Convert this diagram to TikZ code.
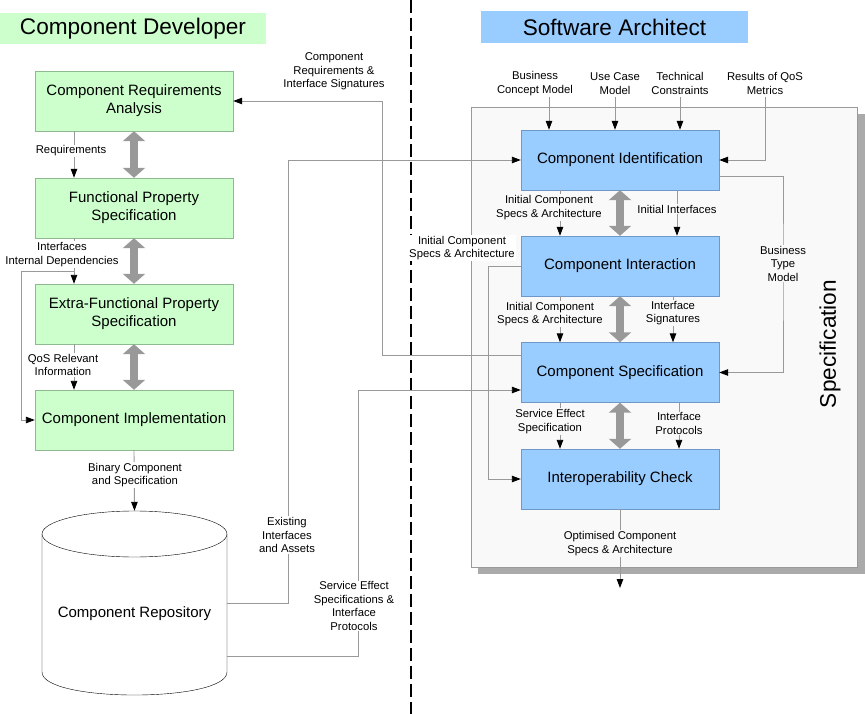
\documentclass[tikz,border=0pt]{standalone}
\usepackage{fontspec}
\setmainfont{Liberation Sans}
\usetikzlibrary{arrows.meta}
\definecolor{gfill}{HTML}{CCFFCC}
\definecolor{gdraw}{HTML}{8FB98F}
\definecolor{bfill}{HTML}{99CCFF}
\definecolor{bdraw}{HTML}{6F98C8}
\definecolor{lgray}{HTML}{999999}
\definecolor{areafill}{HTML}{F9F9F9}
\definecolor{shadowgray}{HTML}{AAAAAA}
\begin{document}
\begin{tikzpicture}[x=1pt,y=-1pt,
  gbox/.style={draw=gdraw, fill=gfill, minimum width=198pt, minimum height=60pt, align=center, font=\fontsize{15}{18}\selectfont, inner sep=0pt},
  bbox/.style={draw=bdraw, fill=bfill, minimum width=198pt, minimum height=60pt, align=center, font=\fontsize{15}{18}\selectfont, inner sep=0pt},
  lbl/.style={fill=white, inner sep=1pt, align=center, font=\fontsize{11.3}{13.5}\selectfont},
  conn/.style={draw=lgray, line width=0.9pt, -{Triangle[length=9pt,width=6.5pt,color=black]}},
  dbl/.style={draw=lgray, line width=8pt, {Triangle[length=10pt,width=22pt]}-{Triangle[length=10pt,width=22pt]}},
  title/.style={minimum height=31pt, font=\fontsize{22.6}{26}\selectfont, inner sep=0pt}
]
\useasboundingbox (0,0) rectangle (865,714);

% titles
\node[title, fill=gfill, minimum width=266pt] (tdev) at (133,28.5) {Component Developer};
\node[title, fill=bfill, minimum width=267pt, minimum height=32pt] (tarch) at (614.5,27) {Software Architect};

% separator
\draw[line width=2.5pt, dash pattern=on 13pt off 5pt] (411,0) -- (411,714);

% specification area
\fill[shadowgray] (478,114) rectangle (865,574);
\draw[draw=lgray, fill=areafill] (471,107) rectangle (857,567);
\node[rotate=90, font=\fontsize{22.6}{26}\selectfont] (spec) at (830,344) {Specification};

% left boxes
\node[gbox] (cra) at (134,101) {Component Requirements\\Analysis};
\node[gbox] (fps) at (134,208) {Functional Property\\Specification};
\node[gbox] (efps) at (134,314) {Extra-Functional Property\\Specification};
\node[gbox] (cimp) at (134,420) {Component Implementation};

% repository cylinder
\node[minimum width=185pt, minimum height=184pt, inner sep=0pt] (repo) at (134.5,603) {};
\fill[white] (42,534) rectangle (227,672);
\draw[fill=white] (42,534) -- (42,672) .. controls (42,702.7) and (227,702.7) .. (227,672) -- (227,534);
\draw[fill=white] (134.5,534) ellipse [x radius=92.5, y radius=23];
\node[font=\fontsize{15}{18}\selectfont] (repotext) at (134.5,614) {Component Repository};

% right boxes
\node[bbox] (cid) at (620,160) {Component Identification};
\node[bbox] (cint) at (620,266) {Component Interaction};
\node[bbox] (cspec) at (620,372.5) {Component Specification};
\node[bbox] (ic) at (620,479) {Interoperability Check};

% coordinates
\coordinate (ib) at (74,271);
\coordinate (ea) at (288,603);
\coordinate (se) at (358,656);
\coordinate (crl) at (382,355);
\coordinate (t1) at (549,97);
\coordinate (t2) at (615,97);
\coordinate (t3) at (680,97);
\coordinate (t4) at (765,97);
\coordinate (btm) at (783,270);
\coordinate (cb) at (488,266);
\coordinate (oe) at (620,588);

% left thick arrows
\draw[dbl] (cra.south) -- (fps.north);
\draw[dbl] (fps.south) -- (efps.north);
\draw[dbl] (efps.south) -- (cimp.north);
% right thick arrows
\draw[dbl] (cid.south) -- (cint.north);
\draw[dbl] (cint.south) -- (cspec.north);
\draw[dbl] (cspec.south) -- (ic.north);

% left thin connectors
\draw[conn] ([xshift=-60pt]cra.south) -- ([xshift=-60pt]fps.north);
\draw[conn] ([xshift=-60pt]fps.south) -- ([xshift=-60pt]efps.north);
\draw[conn] (ib) -- (21,271) |- (cimp.west);
\draw[conn] ([xshift=-60pt]efps.south) -- ([xshift=-60pt]cimp.north);
\draw[conn] (cimp.south) -- (repo.north);

% cross connectors
\draw[conn] (ea -| repo.east) -- (ea) |- (cid.west);
\draw[conn] (se -| repo.east) -- (se) |- ([yshift=-17.5pt]cspec.west);
\draw[conn] ([yshift=17.5pt]cspec.west) -- (crl) |- (cra.east);

% top inputs
\draw[conn] (t1) -- (t1 |- cid.north);
\draw[conn] (t2) -- (t2 |- cid.north);
\draw[conn] (t3) -- (t3 |- cid.north);
\draw[conn] (t4) |- (cid.east);

% right thin connectors
\draw[conn] ([xshift=-60pt]cid.south) -- ([xshift=-60pt]cint.north);
\draw[conn] ([xshift=57pt]cid.south) -- ([xshift=57pt]cint.north);
\draw[conn] ([xshift=-60pt]cint.south) -- ([xshift=-60pt]cspec.north);
\draw[conn] ([xshift=53pt]cint.south) -- ([xshift=53pt]cspec.north);
\draw[conn] ([xshift=-60pt]cspec.south) -- ([xshift=-60pt]ic.north);
\draw[conn] ([xshift=59pt]cspec.south) -- ([xshift=59pt]ic.north);
\draw[conn] ([yshift=-16pt]cid.east) -| (btm) |- (cspec.east);
\draw[conn] (cint.west) -- (cb) |- (ic.west);
\draw[conn] (ic.south) -- (oe);

% labels left
\node[lbl] (l1) at (71,151) {Requirements};
\node[lbl] (l2) at (62,254.5) {Interfaces\\Internal Dependencies};
\node[lbl] (l3) at (63,365) {QoS Relevant\\Information};
\node[lbl] (l4) at (135,475) {Binary Component\\and Specification};
\node[lbl] (l5) at (334,71.5) {Component\\Requirements \&\\Interface Signatures};
\node[lbl] (l6) at (287,535) {Existing\\Interfaces\\and Assets};
\node[lbl] (l7) at (354,606) {Service Effect\\Specifications \&\\Interface\\Protocols};

% labels right
\node[lbl] (r1) at (535,83.5) {Business\\Concept Model};
\node[lbl] (r2) at (615,83.5) {Use Case\\Model};
\node[lbl] (r3) at (680,83.5) {Technical\\Constraints};
\node[lbl] (r4) at (765,83.5) {Results of QoS\\Metrics};
\node[lbl, fill=areafill] (r5) at (549,207.5) {Initial Component\\Specs \& Architecture};
\node[lbl, fill=areafill] (r6) at (677,209) {Initial Interfaces};
\node[lbl] (r7) at (462,248) {Initial Component\\Specs \& Architecture};
\node[lbl, fill=areafill] (r8) at (783,263.5) {Business\\Type\\Model};
\node[lbl, fill=areafill] (r9) at (550,314) {Initial Component\\Specs \& Architecture};
\node[lbl, fill=areafill] (r10) at (673,313) {Interface\\Signatures};
\node[lbl, fill=areafill] (r11) at (550,421.5) {Service Effect\\Specification};
\node[lbl, fill=areafill] (r12) at (679,423.5) {Interface\\Protocols};
\node[lbl, fill=areafill] (r13) at (620,543.5) {Optimised Component\\Specs \& Architecture};
\end{tikzpicture}
\end{document}
